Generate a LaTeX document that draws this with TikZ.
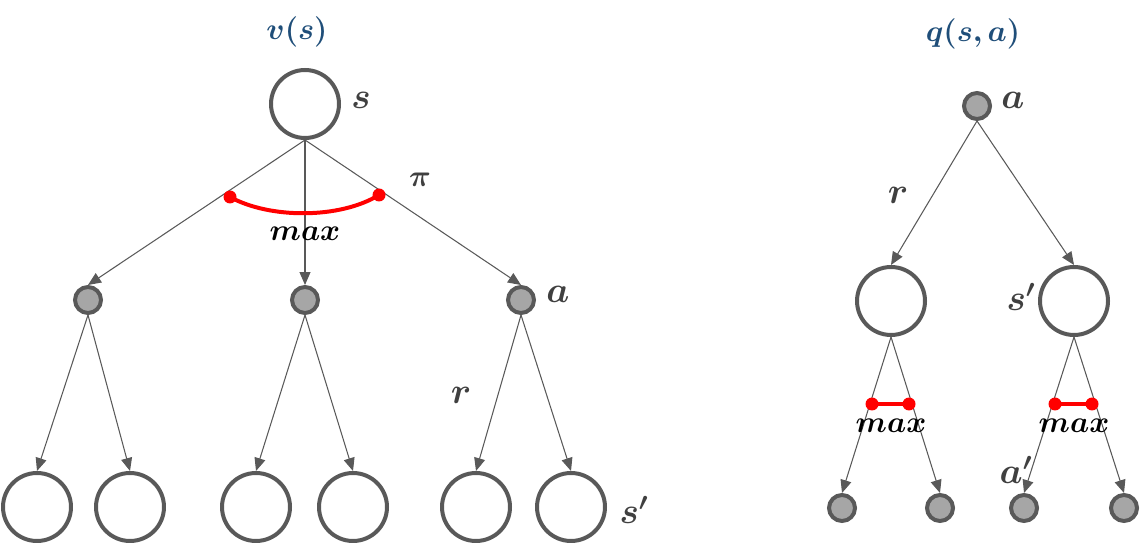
\documentclass[tikz,border=0pt]{standalone}
\usepackage{tikz}
\usetikzlibrary{arrows.meta}
\usepackage{amsmath}
\usepackage{bm}
\definecolor{bkline}{RGB}{89,89,89}
\definecolor{bkfill}{RGB}{166,166,166}
\definecolor{bktext}{RGB}{64,64,64}
\definecolor{bkblue}{RGB}{31,78,121}
\definecolor{bkred}{RGB}{255,0,0}

\begin{document}
\begin{tikzpicture}[x=0.02cm, y=-0.02cm,
    snode/.style={circle, draw=bkline, fill=white, line width=0.08cm,
                  minimum size=1.36cm, inner sep=0pt},
    anode/.style={circle, draw=bkline, fill=bkfill, line width=0.08cm,
                  minimum size=0.52cm, inner sep=0pt},
    link/.style={draw=bkline, line width=0.6pt,
                 -{Triangle[length=2.6mm, width=2.2mm]}},
    lbl/.style={text=bktext, font=\fontsize{20}{24}\selectfont},
    ttl/.style={text=bkblue, font=\fontsize{18}{22}\selectfont},
    mx/.style={font=\fontsize{16}{20}\selectfont},
    redline/.style={draw=bkred, line width=0.08cm},
    reddot/.style={circle, fill=bkred, inner sep=0pt, minimum size=0.26cm}]
  \useasboundingbox (0,0) rectangle (1141,546);

  % ---- v(s) backup tree
  \node[ttl] (tv) at (297,32) {$\bm{v(s)}$};
  \node[snode] (s) at (305,104) {};
  \node[lbl] (ls) at (361,100) {$\bm{s}$};
  \node[anode] (a1) at (88,300) {};
  \node[anode] (a2) at (305,300) {};
  \node[anode] (a3) at (521,300) {};
  \node[lbl] (la) at (558,294) {$\bm{a}$};
  \foreach \i in {1,2,3}
    \draw[link] (s.south) -- (a\i.north);
  % leaves
  \foreach \n/\x in {l1/37, l2/130, l3/256, l4/353, l5/476, l6/571}
    \node[snode] (\n) at (\x,507) {};
  \draw[link] (a1.south) -- (l1.north);
  \draw[link] (a1.south) -- (l2.north);
  \draw[link] (a2.south) -- (l3.north);
  \draw[link] (a2.south) -- (l4.north);
  \draw[link] (a3.south) -- (l5.north);
  \draw[link] (a3.south) -- (l6.north);
  \node[lbl] (lr) at (461,395) {$\bm{r}$};
  \node[lbl] (lsp) at (634,510) {$\bm{s'}$};
  % max over pi
  \coordinate (mL) at (230,197);
  \coordinate (mR) at (379,195);
  \draw[redline] (mL) .. controls (270,219) and (340,219) .. (mR);
  \node[reddot] at (mL) {};
  \node[reddot] at (mR) {};
  \node[mx] (m1) at (305,234) {$\bm{max}$};
  \node[lbl, font=\fontsize{16}{20}\selectfont] (lpi) at (420,180) {$\bm{\pi}$};

  % ---- q(s,a) backup tree
  \node[ttl] (tq) at (973,34) {$\bm{q(s,a)}$};
  \node[anode] (qa) at (977,106) {};
  \node[lbl] (lqa) at (1013,100) {$\bm{a}$};
  \node[snode] (q1) at (891,301) {};
  \node[snode] (q2) at (1074,301) {};
  \draw[link] (qa.south) -- (q1.north);
  \draw[link] (qa.south) -- (q2.north);
  \node[lbl] (lqr) at (898,195) {$\bm{r}$};
  \node[lbl] (lqs) at (1021,297) {$\bm{s'}$};
  \foreach \n/\x in {b1/842, b2/940, b3/1024, b4/1124}
    \node[anode] (\n) at (\x,508) {};
  \draw[link] (q1.south) -- (b1.north);
  \draw[link] (q1.south) -- (b2.north);
  \draw[link] (q2.south) -- (b3.north);
  \draw[link] (q2.south) -- (b4.north);
  \node[lbl] (lap) at (1016,470) {$\bm{a'}$};
  % max over a'
  \foreach \x in {891,1074} {
    \draw[redline] (\x-19,404) -- (\x+18,404);
    \node[reddot] at (\x-19,404) {};
    \node[reddot] at (\x+18,404) {};
    \node[mx] at (\x,426) {$\bm{max}$};
  }
\end{tikzpicture}
\end{document}
